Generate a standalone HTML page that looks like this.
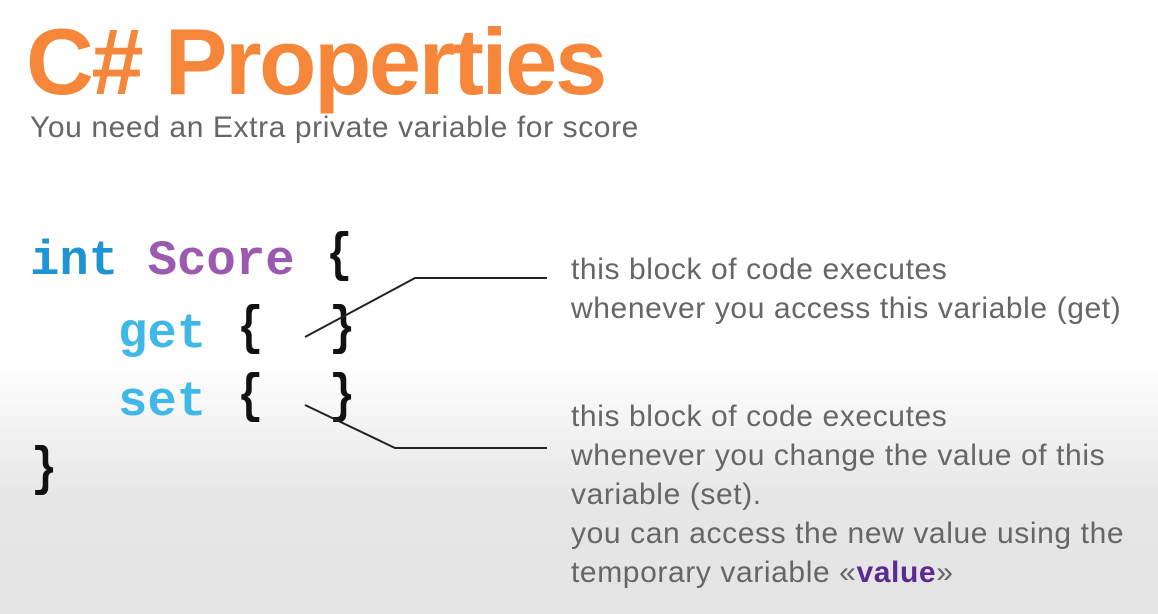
<!DOCTYPE html>
<html><head><style>
body{margin:0;width:1158px;height:614px;overflow:hidden;background:linear-gradient(#fff 0px,#fff 360px,#e6e6e6 500px,#e4e4e4 614px);position:relative;font-family:"Liberation Sans",sans-serif}
.t{position:absolute;white-space:pre}
.code{font-family:"Liberation Mono","DejaVu Sans Mono",monospace;font-size:49px;font-weight:bold;color:#111}
.b{font-size:54px;font-weight:bold;transform:scaleX(0.8)}
.r{font-size:30px;color:#666;left:571px;letter-spacing:0.6px}
</style></head><body>
<div class="t" style="left:26px;top:8px;font-size:94px;font-weight:bold;color:#f5863a;letter-spacing:-2.5px">C# Properties</div>
<div class="t" style="left:30px;top:111px;font-size:30px;color:#666;letter-spacing:0.6px">You need an Extra private variable for score</div>
<div class="t code" style="left:30px;top:233px"><span style="color:#1e94d2">int</span> <span style="color:#9b59b0">Score</span></div>
<div class="t code b" style="left:323px;top:226px">{</div>
<div class="t code" style="left:118px;top:306px;color:#3fb8e8">get</div>
<div class="t code b" style="left:234px;top:299px">{</div>
<div class="t code b" style="left:326px;top:299px">}</div>
<div class="t code" style="left:118px;top:374px;color:#3fb8e8">set</div>
<div class="t code b" style="left:234px;top:367px">{</div>
<div class="t code b" style="left:326px;top:367px">}</div>
<div class="t code b" style="left:28px;top:440px">}</div>
<svg style="position:absolute;left:0;top:0" width="1158" height="614"><polyline points="305,337 415,278 547,278" fill="none" stroke="#222" stroke-width="2"/><polyline points="305,405 395,448 547,448" fill="none" stroke="#222" stroke-width="2"/></svg>
<div class="t r" style="top:250px;line-height:39px">this block of code executes
whenever you access this variable (get)</div>
<div class="t r" style="top:397px;line-height:39px">this block of code executes
whenever you change the value of this
variable (set).
you can access the new value using the
temporary variable «<b style="color:#5b2a8e">value</b>»</div>
</body></html>
